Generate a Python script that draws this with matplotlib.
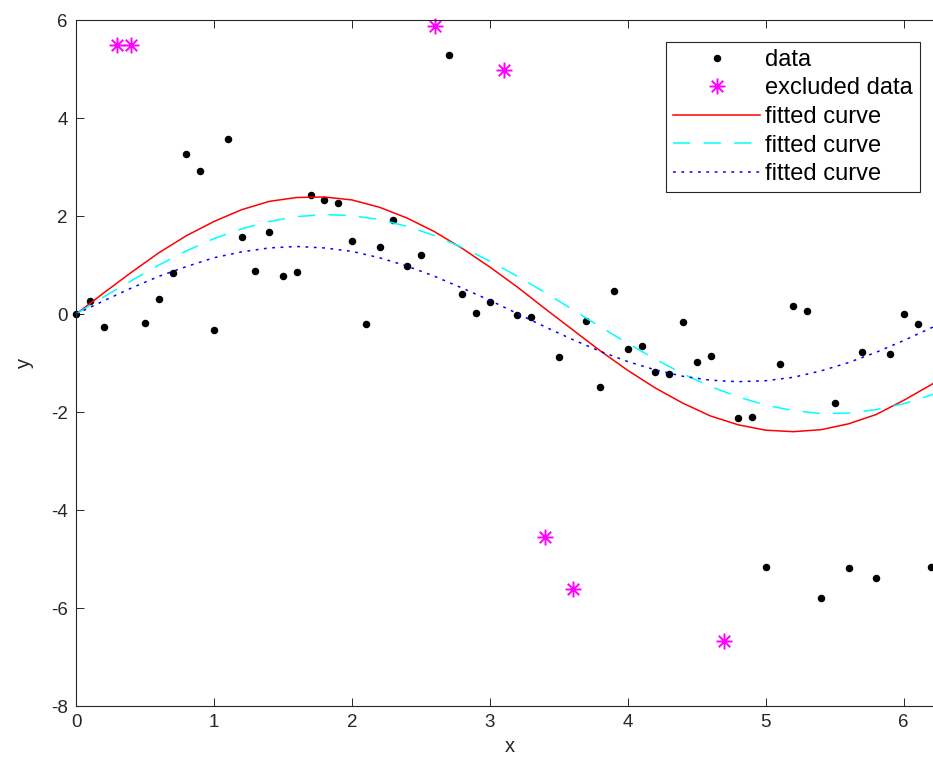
import numpy as np
import matplotlib
matplotlib.use('Agg')
import matplotlib.pyplot as plt
from matplotlib.path import Path

plt.rcParams['font.family'] = ['Liberation Sans', 'DejaVu Sans']
plt.rcParams['lines.scale_dashes'] = False
plt.rcParams['axes.unicode_minus'] = False

# data points used in the fit
x_data = [0, 0.1, 0.2, 0.5, 0.6, 0.7, 0.8, 0.9, 1.0, 1.1, 1.2, 1.3, 1.4, 1.5, 1.6,
          1.7, 1.8, 1.9, 2.0, 2.1, 2.2, 2.3, 2.4, 2.5, 2.7, 2.8, 2.9, 3.0, 3.2, 3.3,
          3.5, 3.7, 3.8, 3.9, 4.0, 4.1, 4.2, 4.3, 4.4, 4.5, 4.6, 4.8, 4.9, 5.0, 5.1,
          5.2, 5.3, 5.4, 5.5, 5.6, 5.7, 5.8, 5.9, 6.0, 6.1, 6.2]
y_data = [0.0, 0.27, -0.27, -0.18, 0.30, 0.84, 3.27, 2.93, -0.32, 3.58, 1.58, 0.88,
          1.67, 0.77, 0.86, 2.44, 2.33, 2.27, 1.50, -0.20, 1.37, 1.93, 0.98, 1.20,
          5.28, 0.41, 0.03, 0.24, -0.01, -0.05, -0.88, -0.15, -1.48, 0.47, -0.71,
          -0.65, -1.18, -1.23, -0.16, -0.98, -0.86, -2.12, -2.10, -5.16, -1.02, 0.16,
          0.07, -5.80, -1.82, -5.18, -0.78, -5.39, -0.82, 0.01, -0.21, -5.16]

# excluded points
x_excl = [0.3, 0.4, 2.6, 3.1, 3.4, 3.6, 4.7]
y_excl = [5.5, 5.5, 5.88, 4.98, -4.54, -5.61, -6.67]

# fitted curves
x_fit = [0, 0.2, 0.4, 0.6, 0.8, 1.0, 1.2, 1.4, 1.6, 1.8, 2.0, 2.2, 2.4, 2.6, 2.8, 3.0,
         3.2, 3.4, 3.6, 3.8, 4.0, 4.2, 4.4, 4.6, 4.8, 5.0, 5.2, 5.4, 5.6, 5.8, 6.0,
         6.2, 6.4]
y_fit1 = [0, 0.43, 0.85, 1.25, 1.60, 1.89, 2.13, 2.30, 2.38, 2.39, 2.33, 2.18, 1.96,
          1.68, 1.34, 0.96, 0.55, 0.11, -0.32, -0.75, -1.15, -1.51, -1.82, -2.08,
          -2.26, -2.37, -2.40, -2.36, -2.24, -2.05, -1.76, -1.44, -1.06]
y_fit2 = [0, 0.35, 0.68, 1.00, 1.29, 1.54, 1.74, 1.89, 1.99, 2.03, 2.01, 1.93, 1.79,
          1.60, 1.36, 1.08, 0.77, 0.44, 0.09, -0.26, -0.60, -0.92, -1.22, -1.48,
          -1.69, -1.86, -1.97, -2.03, -2.02, -1.95, -1.83, -1.65, -1.43]
y_fit3 = [0, 0.27, 0.53, 0.77, 0.97, 1.15, 1.27, 1.35, 1.38, 1.35, 1.28, 1.15, 0.98,
          0.77, 0.53, 0.28, 0.01, -0.26, -0.52, -0.76, -0.97, -1.14, -1.27, -1.35,
          -1.38, -1.36, -1.29, -1.16, -0.99, -0.78, -0.54, -0.28, -0.02]

# matlab style asterisk marker
d = 0.72
star = Path([(-1, 0), (1, 0), (0, -1), (0, 1), (-d, -d), (d, d), (-d, d), (d, -d)],
            [Path.MOVETO, Path.LINETO] * 4)

grey = '#262626'
fig = plt.figure(figsize=(9.33, 7.83), dpi=100)
ax = fig.add_axes([0.0815, 0.0983, 0.929, 0.876])

ax.plot(x_data, y_data, 'o', color='black', markersize=4.4, label='data', clip_on=False)
ax.plot(x_excl, y_excl, linestyle='none', marker=star, markersize=11.5,
        markeredgecolor='magenta', markerfacecolor='none', markeredgewidth=1.4,
        label='excluded data', clip_on=False)
ax.plot(x_fit, y_fit1, color='red', lw=1.1, label='fitted curve')
ax.plot(x_fit, y_fit2, color='cyan', lw=1.1, dashes=(12.5, 9.5), label='fitted curve')
ax.plot(x_fit, y_fit3, color='blue', lw=1.1, dashes=(2.0, 4.0), label='fitted curve')

ax.set_xlim(0, 2 * np.pi)
ax.set_ylim(-8, 6)
ax.set_xticks(range(0, 7))
ax.set_yticks(range(-8, 7, 2))
ax.tick_params(direction='in', top=True, right=True, length=5.5, width=0.7,
               colors=grey, labelsize=13.5, pad=6)
for s in ax.spines.values():
    s.set_color(grey)
    s.set_linewidth(0.8)
ax.set_xlabel('x', fontsize=14.5, color=grey, labelpad=4)
ax.set_ylabel('y', fontsize=14.5, color=grey, labelpad=12)

leg = ax.legend(loc='upper right', bbox_to_anchor=(0.986, 0.9467),
                bbox_transform=fig.transFigure, borderaxespad=0, fontsize=17,
                handlelength=3.7, handletextpad=0.2, labelspacing=0.28,
                borderpad=0.3, fancybox=False, framealpha=1, numpoints=1)
leg.get_frame().set_edgecolor(grey)
leg.get_frame().set_linewidth(0.8)

plt.savefig('out.png', dpi=100)
